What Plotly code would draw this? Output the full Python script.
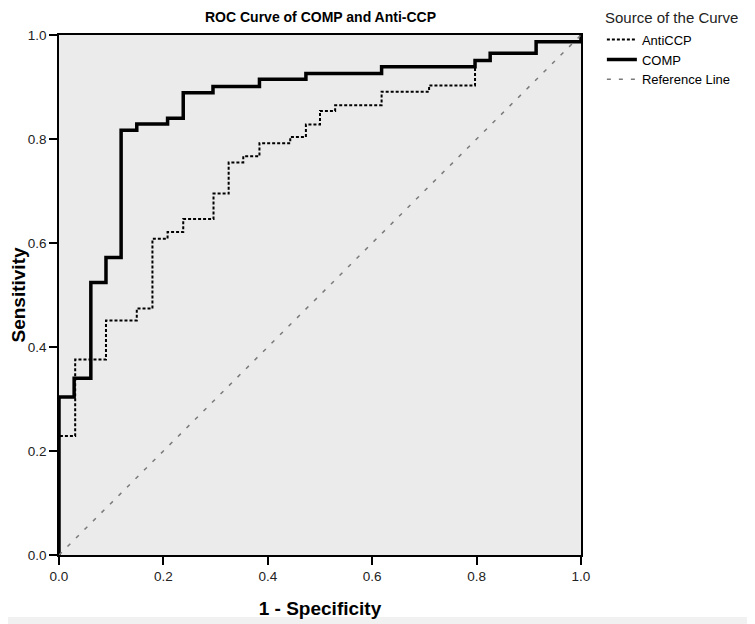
import plotly.graph_objects as go

# ROC corner points
comp_fpr = [0.0, 0.0, 0.029, 0.061, 0.090, 0.119, 0.149, 0.208, 0.238, 0.295,
            0.384, 0.473, 0.618, 0.797, 0.826, 0.914, 1.0]
comp_tpr = [0.0, 0.304, 0.340, 0.524, 0.572, 0.817, 0.829, 0.840, 0.889, 0.901,
            0.915, 0.926, 0.939, 0.951, 0.965, 0.987, 1.0]

anticcp_fpr = [0.0, 0.0, 0.031, 0.090, 0.149, 0.179, 0.208, 0.238, 0.296, 0.325,
               0.353, 0.384, 0.443, 0.473, 0.500, 0.529, 0.618, 0.709, 0.797,
               0.826, 0.914, 1.0]
anticcp_tpr = [0.0, 0.229, 0.376, 0.451, 0.474, 0.608, 0.621, 0.646, 0.695, 0.755,
               0.767, 0.792, 0.804, 0.828, 0.854, 0.865, 0.891, 0.903, 0.951,
               0.965, 0.987, 1.0]

ref_x = [0.0, 1.0]
ref_y = [0.0, 1.0]

tick_vals = [0.0, 0.2, 0.4, 0.6, 0.8, 1.0]
tick_text = ["0.0", "0.2", "0.4", "0.6", "0.8", "1.0"]

FONT = "Liberation Sans, Arial, sans-serif"

fig = go.Figure()
fig.add_trace(go.Scatter(x=anticcp_fpr, y=anticcp_tpr, mode="lines", name="AntiCCP",
                         line=dict(color="black", width=2, dash="3px,2px", shape="hv")))
fig.add_trace(go.Scatter(x=comp_fpr, y=comp_tpr, mode="lines", name="COMP",
                         line=dict(color="black", width=3.5, shape="hv")))
fig.add_trace(go.Scatter(x=ref_x, y=ref_y, mode="lines", name="Reference Line",
                         line=dict(color="#7a7a7a", width=1.5, dash="4px,8px")))

axis_common = dict(
    range=[0, 1], tickvals=tick_vals, ticktext=tick_text,
    showgrid=False, zeroline=False, automargin=False,
    showline=True, linecolor="black", linewidth=1.5, mirror=True,
    ticks="outside", ticklen=8, tickcolor="black", tickwidth=1.5,
    tickfont=dict(family=FONT, size=13.5, color="#222222"),
)

W, H = 747, 616
L, T, R, B = 51, 27, 174, 69
PW, PH = W - L - R, H - T - B

fig.update_layout(
    width=W, height=H,
    margin=dict(l=L, r=R, t=T, b=B),
    paper_bgcolor="white", plot_bgcolor="#ebebeb",
    font=dict(family=FONT, color="black"),
    xaxis=dict(**axis_common,
               title=dict(text="<b>1 - Specificity</b>", font=dict(family=FONT, size=19),
                          standoff=19)),
    yaxis=dict(**axis_common,
               title=dict(text="<b>Sensitivity</b>", font=dict(family=FONT, size=19),
                          standoff=2)),
    showlegend=True,
    legend=dict(x=1.04, y=1.02, xanchor="left", yanchor="top",
                font=dict(family=FONT, size=13, color="black"),
                bgcolor="rgba(0,0,0,0)", tracegroupgap=0, itemwidth=30),
    annotations=[
        dict(text="<b>ROC Curve of COMP and Anti-CCP</b>", xref="paper", yref="paper",
             x=0.5, y=1.0, yshift=18, xanchor="center", yanchor="middle", showarrow=False,
             font=dict(family=FONT, size=14, color="black")),
        dict(text="Source of the Curve", xref="paper", yref="paper",
             x=1.042, y=1.0, yshift=18, xanchor="left", yanchor="middle", showarrow=False,
             font=dict(family=FONT, size=15, color="#222222")),
    ],
    shapes=[
        dict(type="rect", xref="paper", yref="paper",
             x0=(742 - L) / PW, x1=(W + 2 - L) / PW,
             y0=-(B + 2) / PH, y1=(PH + T + 2) / PH, fillcolor="#f1f1f1",
             line=dict(width=0), layer="above"),
        dict(type="rect", xref="paper", yref="paper",
             x0=-(L + 2) / PW, x1=(W + 2 - L) / PW,
             y0=-(B + 2) / PH, y1=-(B - 7) / PH, fillcolor="#f1f1f1",
             line=dict(width=0), layer="above"),
    ],
)

fig.write_html("out.html")
